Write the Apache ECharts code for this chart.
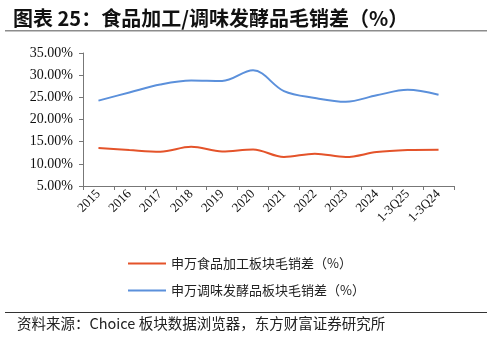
<!DOCTYPE html>
<html>
<head>
<meta charset="utf-8">
<script src="https://cdn.jsdelivr.net/npm/echarts@6/dist/echarts.min.js"></script>
<style>
  html, body { margin: 0; padding: 0; background: #fff; }
  #chart { width: 492px; height: 338px; }
</style>
</head>
<body>
<div id="chart"></div>
<script>
// Categories along the x axis
const categories = ['2015', '2016', '2017', '2018', '2019', '2020', '2021', '2022', '2023', '2024', '1-3Q25', '1-3Q24'];

// 申万食品加工板块毛销差（%）
const foodProcessing = [13.55, 13.1, 12.75, 13.85, 12.8, 13.25, 11.55, 12.3, 11.55, 12.65, 13.1, 13.2];

// 申万调味发酵品板块毛销差（%）
const seasoning = [24.25, 26.1, 27.9, 28.8, 28.7, 31.1, 26.4, 24.85, 24.0, 25.45, 26.7, 25.6];

const seriesNames = ['申万食品加工板块毛销差（%）', '申万调味发酵品板块毛销差（%）'];

const cjk = '"Noto Sans CJK SC", "Noto Sans", sans-serif';
const serif = '"Liberation Serif", "DejaVu Serif", serif';

const chart = echarts.init(document.getElementById('chart'));

chart.setOption({
  animation: false,
  backgroundColor: '#fff',
  title: {
    text: '图表 25：食品加工/调味发酵品毛销差（%）',
    left: 8,
    top: 3,
    textStyle: { fontFamily: cjk, fontSize: 20, fontWeight: 'bold', color: '#111' }
  },
  graphic: [
    { type: 'rect', shape: { x: 5, y: 30, width: 482, height: 1.5 }, style: { fill: '#8c8c8c' } },
    { type: 'rect', shape: { x: 5, y: 312, width: 482, height: 1 }, style: { fill: '#333' } },
    {
      type: 'text', left: 17, top: 316,
      style: { text: '资料来源：Choice 板块数据浏览器，东方财富证券研究所', font: '14.5px ' + cjk, fill: '#222' }
    }
  ],
  grid: { left: 83, right: 38, top: 53, bottom: 152 },
  legend: {
    orient: 'vertical',
    left: 123,
    top: 252,
    itemGap: 14,
    itemWidth: 38,
    itemHeight: 2,
    icon: 'rect',
    textStyle: { fontFamily: cjk, fontSize: 13, color: '#222' },
    data: seriesNames
  },
  xAxis: {
    type: 'category',
    data: categories,
    boundaryGap: true,
    axisLine: { lineStyle: { color: '#777', width: 1 } },
    axisTick: { show: true, alignWithLabel: false, length: 4, lineStyle: { color: '#777' } },
    axisLabel: { rotate: 45, fontFamily: serif, fontSize: 13, color: '#111', margin: 6, interval: 0 }
  },
  yAxis: {
    type: 'value',
    min: 5,
    max: 35,
    interval: 5,
    splitLine: { show: false },
    axisLine: { show: true, lineStyle: { color: '#777', width: 1 } },
    axisTick: { show: true, length: 4, lineStyle: { color: '#777' } },
    axisLabel: {
      fontFamily: serif, fontSize: 14, color: '#111', margin: 10,
      formatter: v => v.toFixed(2) + '%'
    }
  },
  series: [
    {
      name: seriesNames[0],
      type: 'line',
      data: foodProcessing,
      smooth: 0.35,
      symbol: 'none',
      lineStyle: { color: '#E4532A', width: 2 },
      itemStyle: { color: '#E4532A' }
    },
    {
      name: seriesNames[1],
      type: 'line',
      data: seasoning,
      smooth: 0.35,
      symbol: 'none',
      lineStyle: { color: '#5B90DB', width: 2 },
      itemStyle: { color: '#5B90DB' }
    }
  ]
});
</script>
</body>
</html>
